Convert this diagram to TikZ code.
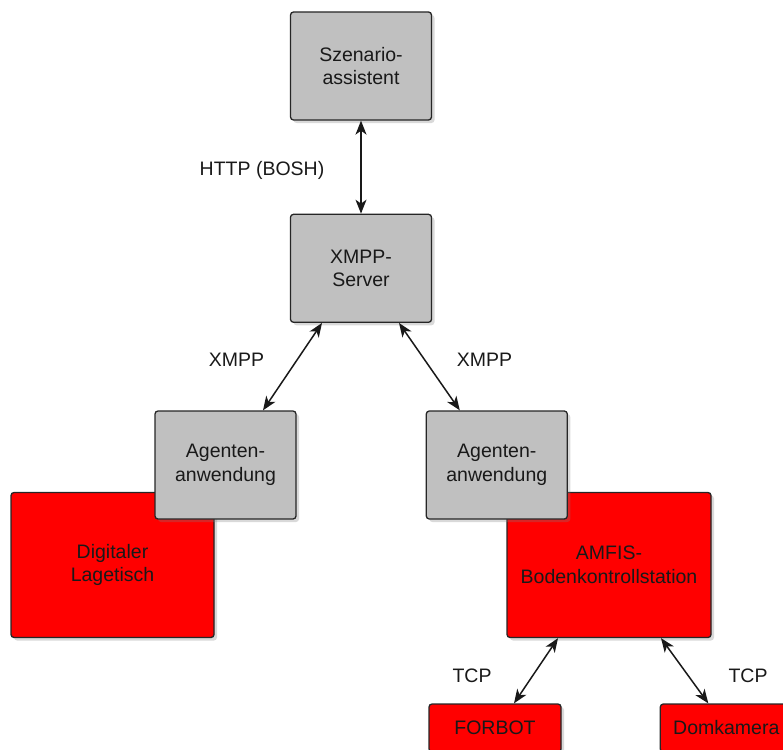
\documentclass[tikz,border=0pt]{standalone}
\usepackage{fontspec}
\setmainfont{Liberation Sans}
\usetikzlibrary{arrows.meta,positioning,shadows}
\definecolor{grau}{HTML}{C0C0C0}
\definecolor{rot}{HTML}{FF0000}

\begin{document}
\begin{tikzpicture}[x=1pt,y=1pt,>={Stealth[length=14pt,width=11pt,inset=4pt]},
  box/.style={draw=black!85,line width=1.3pt,rounded corners=3pt,align=center,
    inner sep=0pt,text=black!90,font=\fontsize{19.5}{23.5}\selectfont,
    drop shadow={shadow xshift=3pt,shadow yshift=-3pt,opacity=0.3}},
  graubox/.style={box,fill=grau,minimum width=141pt,minimum height=108pt},
  rotbox/.style={box,fill=rot},
  conn/.style={<->,line width=1.5pt,black!90},
  lbl/.style={font=\fontsize{19.5}{23.5}\selectfont,text=black!90,inner sep=0pt}]
\useasboundingbox (0,0) rectangle (783,-749);
\clip (0,0) rectangle (783,-749);
\node[rotbox,minimum width=203pt,minimum height=145pt] (lagetisch) at (112.5,-565)
    {Digitaler\\Lagetisch};
\node[rotbox,minimum width=204pt,minimum height=145pt] (amfis) at (609,-565)
    {AMFIS-\\Bodenkontrollstation};
\node[rotbox,minimum width=132pt,minimum height=48pt] (forbot) at (495,-728) {FORBOT};
\node[rotbox,minimum width=132pt,minimum height=48pt,right=98pt of forbot] (domkamera) {Domkamera};
\node[graubox] (szenario) at (361,-66) {Szenario-\\assistent};
\node[graubox,below=93pt of szenario] (server) {XMPP-\\Server};
\node[graubox] (agentL) at (225.5,-465) {Agenten-\\anwendung};
\node[graubox,right=129pt of agentL] (agentR) {Agenten-\\anwendung};
\draw[conn] (szenario) -- (server);
\draw[conn] ([xshift=-39pt]server.south) -- ([xshift=37.5pt]agentL.north);
\draw[conn] ([xshift=38pt]server.south) -- ([xshift=-37pt]agentR.north);
\draw[conn] ([xshift=-51pt]amfis.south) -- ([xshift=19pt]forbot.north);
\draw[conn] ([xshift=52pt]amfis.south) -- ([xshift=-18pt]domkamera.north);
\node[lbl] (http) at (262,-170) {HTTP (BOSH)};
\node[lbl] (xmppL) at (236.5,-360) {XMPP};
\node[lbl] (xmppR) at (484.5,-360) {XMPP};
\node[lbl] (tcpL) at (472,-675.5) {TCP};
\node[lbl] (tcpR) at (748,-675.5) {TCP};
\end{tikzpicture}
\end{document}
